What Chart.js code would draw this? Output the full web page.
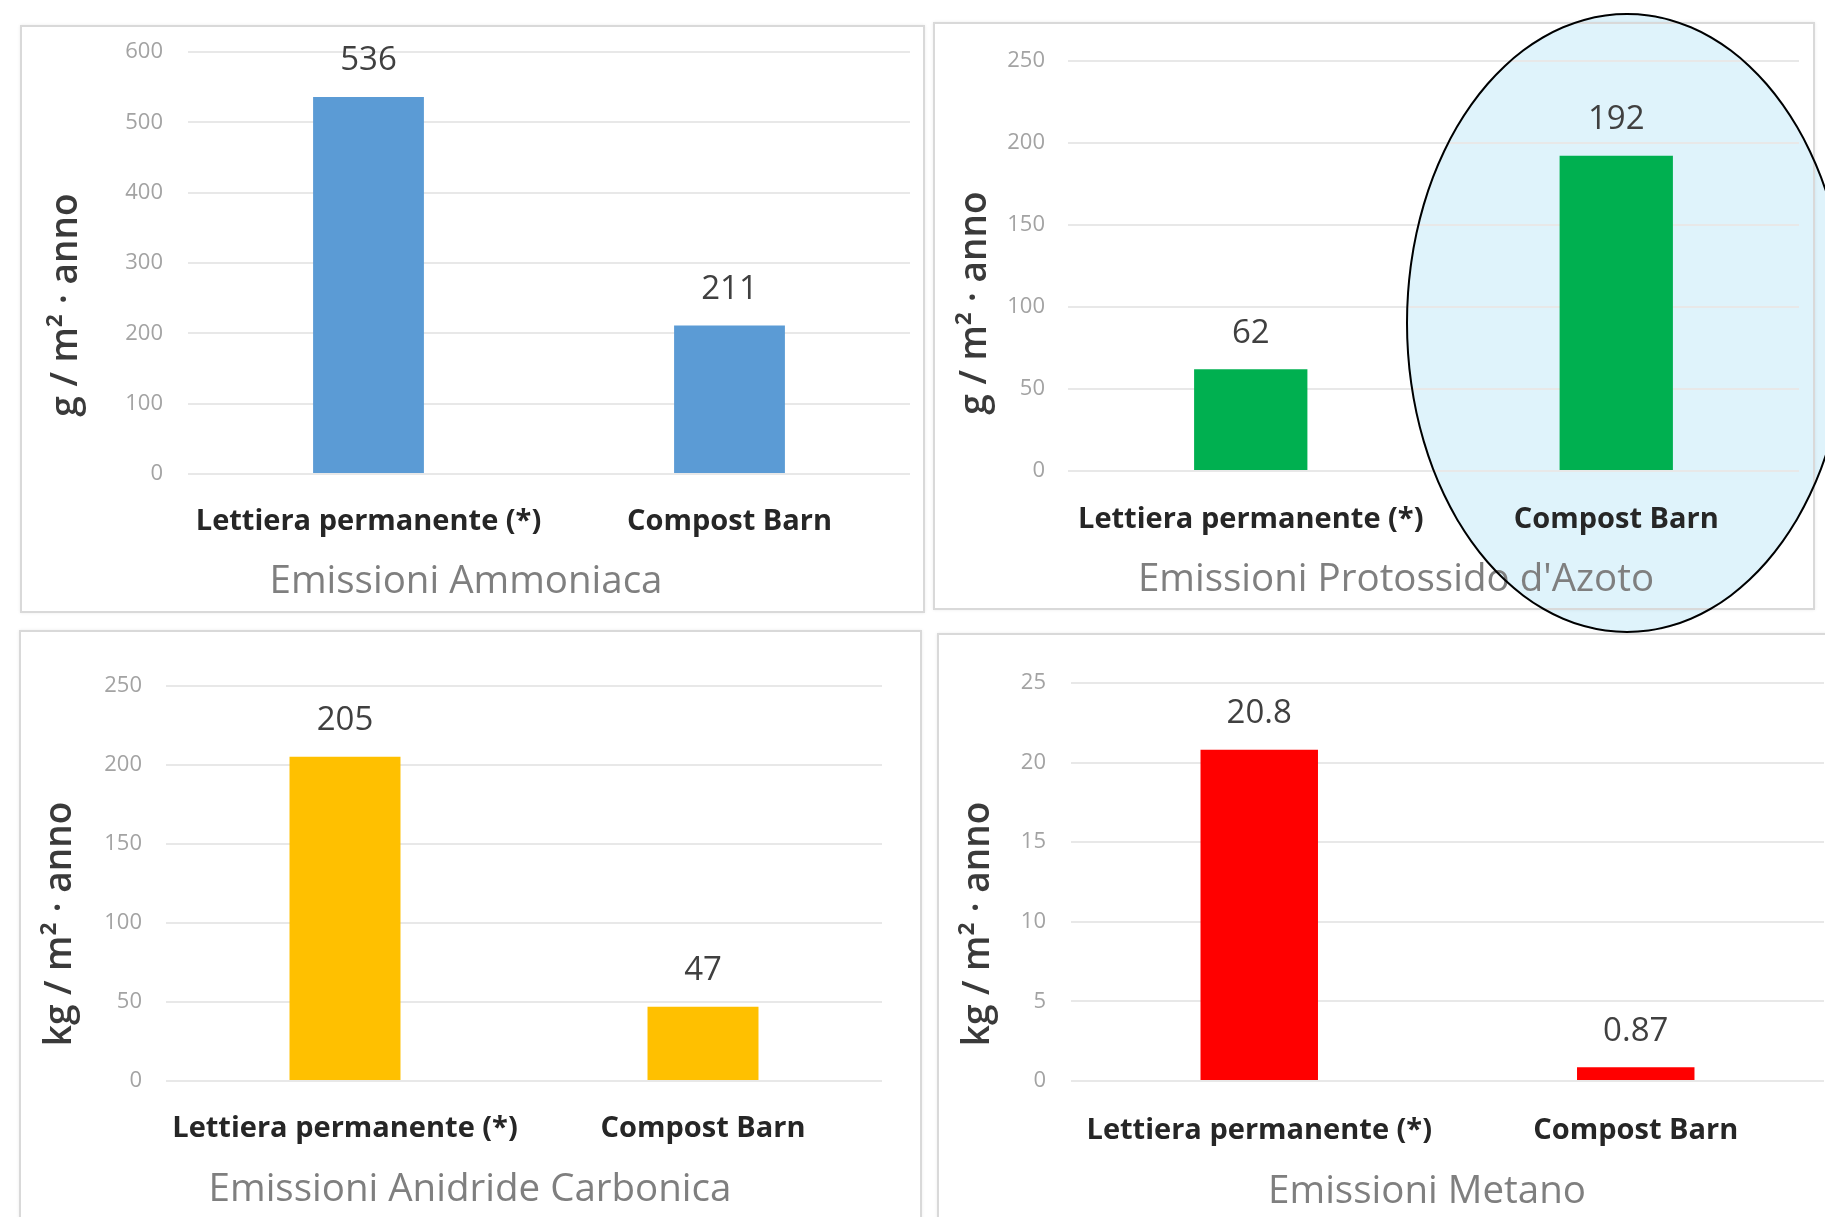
<!DOCTYPE html>
<html>
<head>
<meta charset="utf-8">
<script src="https://cdn.jsdelivr.net/npm/chart.js"></script>
<style>
  html,body{margin:0;padding:0;background:#fff;width:1825px;height:1217px;overflow:hidden;}
  .panel{position:absolute;box-sizing:border-box;border:2px solid #d9d9d9;box-shadow:0 0 3px rgba(0,0,0,0.08);}
  canvas{position:absolute;}
  .ring{position:absolute;box-sizing:border-box;border-radius:50%;pointer-events:none;left:1406px;top:13px;width:442px;height:620px;}
</style>
</head>
<body>
<div class="ring" style="background:#dff3fb;border:2px solid transparent"></div>
<div class="panel" style="left:20px;top:25px;width:905px;height:588px;background:#fff"></div>
<div class="panel" style="left:933px;top:22px;width:882px;height:588px"></div>
<div class="panel" style="left:19px;top:630px;width:903px;height:620px;background:#fff"></div>
<div class="panel" style="left:937px;top:633px;width:920px;height:620px;background:#fff"></div>
<canvas id="c1"></canvas>
<canvas id="c2"></canvas>
<canvas id="c3"></canvas>
<canvas id="c4"></canvas>
<div class="ring" style="border:2px solid #000"></div>
<script>
// chart data
const categories = ['Lettiera permanente (*)', 'Compost Barn'];
const ammoniacaValues = [536, 211];
const protossidoValues = [62, 192];
const anidrideValues = [205, 47];
const metanoValues = [20.8, 0.87];
const chartTitles = ['Emissioni Ammoniaca', "Emissioni Protossido d'Azoto", 'Emissioni Anidride Carbonica', 'Emissioni Metano'];
const yTitles = ['g / m² · anno', 'g / m² · anno', 'kg / m² · anno', 'kg / m² · anno'];
const yMax = [600, 250, 250, 25];
const yStep = [100, 50, 50, 5];

const FONT = "'Open Sans', sans-serif";
const F_TICK = 22, F_CAT = 29, F_TITLE = 38.5, F_YT = 37, F_VAL = 33;

// value labels above the bars
const valueLabels = {
  id:'valueLabels',
  afterDatasetsDraw(chart){
    const ctx = chart.ctx, ds = chart.data.datasets[0];
    ctx.save();
    ctx.font = `${F_VAL}px ${FONT}`;
    ctx.fillStyle = '#404040'; ctx.textAlign = 'center'; ctx.textBaseline = 'middle';
    chart.getDatasetMeta(0).data.forEach((bar,i)=>{ ctx.fillText(String(ds.data[i]), bar.x, bar.y - 36); });
    ctx.restore();
  }
};

// chart title under the axis + rotated y title, placed like in the excel picture
const textMarks = {
  id:'textMarks',
  afterDraw(chart, args, o){
    const ctx = chart.ctx;
    ctx.save();
    ctx.textAlign = 'center'; ctx.textBaseline = 'middle';
    ctx.fillStyle = '#7f7f7f'; ctx.font = `${F_TITLE}px ${FONT}`;
    ctx.fillText(o.title, o.titleX, o.titleY);
    ctx.translate(o.yTitleX, o.yTitleY); ctx.rotate(-Math.PI/2);
    ctx.fillStyle = '#3a3a3a'; ctx.font = `600 ${F_YT}px ${FONT}`;
    ctx.fillText(o.yTitle, 0, 0);
    ctx.restore();
  }
};

// panel = frame on the page, area = plot area, m = text positions (all page px)
function makeChart(id, idx, values, color, panel, area, m, barPct){
  const cv = document.getElementById(id);
  // canvas reaches a bit above the frame so the top tick label never pushes the plot down
  const box = {x:panel.x, y:panel.y - 30, w:panel.w, h:panel.h + 30};
  cv.width = box.w; cv.height = box.h;
  cv.style.left = box.x + 'px'; cv.style.top = box.y + 'px';
  const L = area.left - box.x, R = area.right - box.x, T = area.top - box.y, B = area.bottom - box.y;
  return new Chart(cv, {
    type:'bar',
    data:{ labels:categories, datasets:[{ data:values, backgroundColor:color, categoryPercentage:1, barPercentage:barPct }] },
    options:{
      responsive:false, animation:false, devicePixelRatio:1,
      layout:{ padding:{ top:T, right:box.w - R, left:0, bottom:0 } },
      plugins:{
        legend:{display:false}, tooltip:{enabled:false}, title:{display:false},
        textMarks:{ title:chartTitles[idx], titleX:m.titleX - box.x, titleY:m.titleY - box.y,
          yTitle:yTitles[idx], yTitleX:m.yTitleX - box.x, yTitleY:m.yTitleY - box.y }
      },
      scales:{
        x:{
          grid:{display:false}, border:{display:false},
          ticks:{ color:'#262626', font:{family:FONT, size:F_CAT, weight:'bold', lineHeight:1.2}, padding:m.catY - area.bottom - F_CAT*0.6 - 6, maxRotation:0, autoSkip:false },
          afterFit: s=>{ s.height = box.h - B; }
        },
        y:{
          min:0, max:yMax[idx],
          grid:{ color:'#e8e8e8', lineWidth:2, drawTicks:false }, border:{display:false},
          ticks:{ stepSize:yStep[idx], color:'#a3a3a3', font:{family:FONT, size:F_TICK}, padding:area.left - m.tickRight },
          afterFit: s=>{ s.width = L; }
        }
      }
    },
    plugins:[valueLabels, textMarks]
  });
}

makeChart('c1', 0, ammoniacaValues, '#5b9bd5',
  {x:20, y:25, w:905, h:588}, {left:188, right:910, top:52, bottom:474},
  {tickRight:163, yTitleX:66, yTitleY:305, catY:520, titleX:466, titleY:582}, 0.307);
makeChart('c2', 1, protossidoValues, '#00b050',
  {x:933, y:22, w:882, h:588}, {left:1068, right:1799, top:60.5, bottom:471},
  {tickRight:1045, yTitleX:975, yTitleY:303, catY:518, titleX:1396, titleY:580}, 0.31);
makeChart('c3', 2, anidrideValues, '#ffc000',
  {x:19, y:630, w:903, h:600}, {left:166, right:882, top:685.6, bottom:1081},
  {tickRight:142, yTitleX:60, yTitleY:924, catY:1127, titleX:470, titleY:1190}, 0.31);
makeChart('c4', 3, metanoValues, '#ff0000',
  {x:937, y:633, w:900, h:600}, {left:1071, right:1824, top:683, bottom:1081},
  {tickRight:1046, yTitleX:978, yTitleY:924, catY:1129, titleX:1427, titleY:1192}, 0.312);
</script>
</body>
</html>
